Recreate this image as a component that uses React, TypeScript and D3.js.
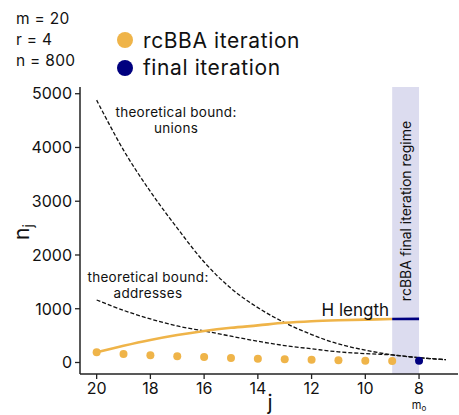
import React from "react";
import * as d3 from "d3";

const params = ["m = 20", "r = 4", "n = 800"];

const iterJ = [20, 19, 18, 17, 16, 15, 14, 13, 12, 11, 10, 9];
const iterN = [190, 158, 134, 115, 102, 84, 71, 62, 52, 41, 34, 28];
const finalJ = 8;
const finalN = 34;

const hJ = [20, 19, 18, 17, 16, 15, 14, 13, 12, 11, 10, 9];
const hLen = [190, 310, 418, 510, 586, 645, 690, 738, 768, 786, 798, 808];
const hFinal = [808, 812];

const boundJ = [20, 19, 18, 17, 16, 15, 14, 13, 12, 11, 10, 9, 8, 7];
const boundUnions = [4880, 3950, 3180, 2500, 1870, 1380, 1020, 740, 520, 345, 230, 142, 90, 52];
const boundAddresses = [1163, 970, 810, 680, 586, 490, 395, 315, 255, 198, 165, 140, 90, 52];

const xTicks = [20, 18, 16, 14, 12, 10, 8];
const yTicks = [0, 1000, 2000, 3000, 4000, 5000];

const ORANGE = "#efb449";
const NAVY = "#00007f";
const FONT = "Inter, 'DejaVu Sans', sans-serif";

export default function App() {
  const W = 459;
  const H = 415;
  const x = d3.scaleLinear().domain([20.62, 6.55]).range([80, 458]);
  const y = d3.scaleLinear().domain([-214, 5125]).range([374, 87]);

  const line = d3
    .line<[number, number]>()
    .x((d) => x(d[0]))
    .y((d) => y(d[1]))
    .curve(d3.curveCatmullRom);

  const hPts = hJ.map((j, i) => [j, hLen[i]] as [number, number]);
  const unionPts = boundJ.map((j, i) => [j, boundUnions[i]] as [number, number]);
  const addrPts = boundJ.map((j, i) => [j, boundAddresses[i]] as [number, number]);

  return (
    <svg width={W} height={H} style={{ position: "absolute", left: 0, top: 0 }} fontFamily={FONT}>
      {/* final iteration band */}
      <rect x={x(9)} y={y.range()[1]} width={x(8) - x(9)} height={y.range()[0] - y.range()[1]} fill="#dcdcef" />
      <text
        transform={`translate(${(x(9) + x(8)) / 2 + 5},${211}) rotate(-90)`}
        textAnchor="middle"
        fontSize={14}
        fill="#111"
      >
        rcBBA final iteration regime
      </text>

      {/* theoretical bounds */}
      <path d={line(unionPts) || ""} fill="none" stroke="#111" strokeWidth={1.3} strokeDasharray="4,2" />
      <path d={line(addrPts) || ""} fill="none" stroke="#111" strokeWidth={1.3} strokeDasharray="4,2" />

      {/* H length */}
      <path d={line(hPts) || ""} fill="none" stroke={ORANGE} strokeWidth={2.6} />
      <line x1={x(9)} x2={x(8)} y1={y(hFinal[0])} y2={y(hFinal[1])} stroke={NAVY} strokeWidth={2.6} />

      {iterJ.map((j, i) => (
        <circle key={j} cx={x(j)} cy={y(iterN[i])} r={4} fill={ORANGE} />
      ))}
      <circle cx={x(finalJ)} cy={y(finalN)} r={4} fill={NAVY} />

      {/* annotations */}
      <g fontSize={13.5} fill="#111" textAnchor="middle" letterSpacing={0.3}>
        <text x={176} y={117}>theoretical bound:</text>
        <text x={176} y={133}>unions</text>
        <text x={148} y={282}>theoretical bound:</text>
        <text x={148} y={298}>addresses</text>
      </g>
      <text x={389} y={316} textAnchor="end" fontSize={17} fill="#111">H length</text>

      {/* axes */}
      <line x1={80} x2={80} y1={87} y2={374} stroke="#222" strokeWidth={1.5} />
      <line x1={80} x2={458} y1={374} y2={374} stroke="#222" strokeWidth={1.5} />
      {yTicks.map((t) => (
        <g key={t} transform={`translate(0,${y(t)})`}>
          <line x1={75} x2={80} stroke="#222" strokeWidth={1.3} />
          <text x={72} dy="0.36em" textAnchor="end" fontSize={16} fill="#111">{t}</text>
        </g>
      ))}
      {xTicks.map((t) => (
        <g key={t} transform={`translate(${x(t)},0)`}>
          <line y1={374} y2={379} stroke="#222" strokeWidth={1.3} />
          <text y={394} textAnchor="middle" fontSize={16} fill="#111">{t}</text>
        </g>
      ))}
      <text x={x(8)} y={409} textAnchor="middle" fontSize={11} fill="#111">
        m<tspan fontSize={8} dy={2}>o</tspan>
      </text>
      <text x={270} y={410} textAnchor="middle" fontSize={21} fill="#111">j</text>
      <text transform="translate(29,232) rotate(-90)" textAnchor="middle" fontSize={21} fill="#111">
        n<tspan fontSize={14} dy={4}>j</tspan>
      </text>

      {/* params */}
      {params.map((p, i) => (
        <text key={p} x={16} y={24 + i * 21} fontSize={15.5} letterSpacing={0.3} fill="#111">{p}</text>
      ))}

      {/* legend */}
      <circle cx={125} cy={40} r={8} fill={ORANGE} />
      <text x={143} y={48} fontSize={21} letterSpacing={0.6} fill="#111">rcBBA iteration</text>
      <circle cx={125} cy={68} r={8} fill={NAVY} />
      <text x={143} y={75} fontSize={21} letterSpacing={0.6} fill="#111">final iteration</text>
    </svg>
  );
}
